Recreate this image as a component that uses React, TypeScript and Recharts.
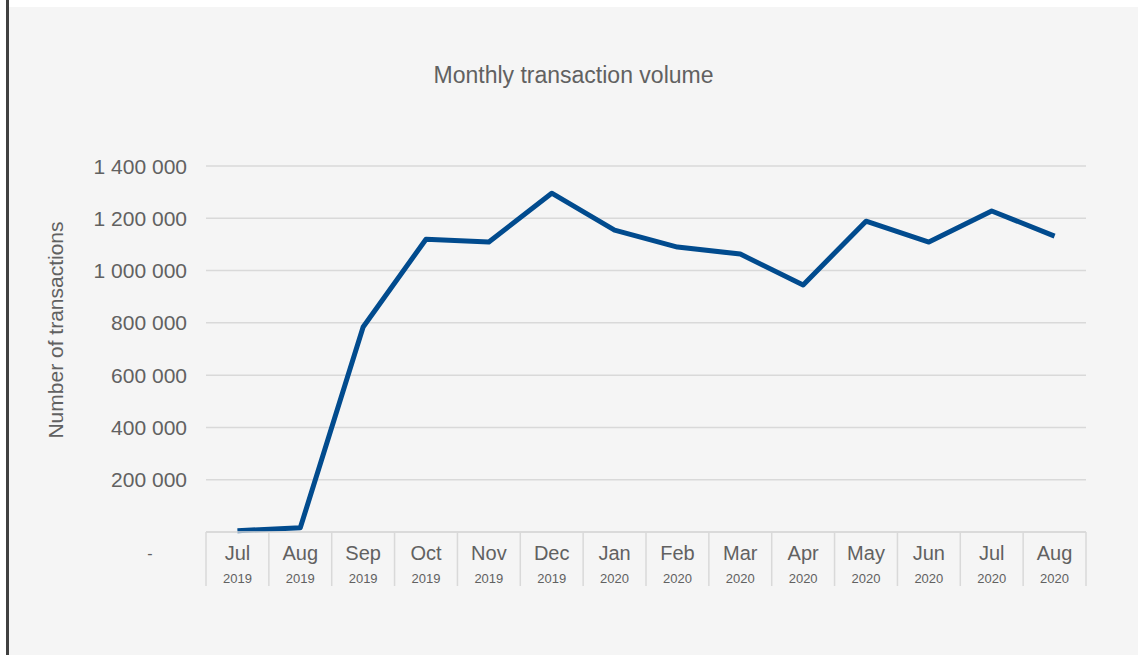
import { LineChart, Line, XAxis, YAxis, CartesianGrid } from "recharts";

const months = ["Jul", "Aug", "Sep", "Oct", "Nov", "Dec", "Jan", "Feb", "Mar", "Apr", "May", "Jun", "Jul", "Aug"];
const years = ["2019", "2019", "2019", "2019", "2019", "2019", "2020", "2020", "2020", "2020", "2020", "2020", "2020", "2020"];
const transactions = [5000, 16000, 784000, 1120000, 1109000, 1296000, 1155000, 1090000, 1063000, 945000, 1189000, 1109000, 1228000, 1132000];
const yTicks = [0, 200000, 400000, 600000, 800000, 1000000, 1200000, 1400000];

const data = months.map((m, i) => ({ key: `${m} ${years[i]}`, value: transactions[i] }));

const W = 1143;
const H = 655;
const xAxisH = 60;
const margin = { top: 166, right: 57, left: 0, bottom: 123 - xAxisH };
const plotW = W - 206 - margin.right;
const band = plotW / months.length;
const font = "'Liberation Sans', Arial, sans-serif";
const textColor = "#616161";
const gridColor = "#d9d9d9";

const fmt = (v: number) => v.toLocaleString("en-US").replace(/,/g, " ");

function XTick(props: any) {
  const { x, y, index } = props;
  const half = band / 2;
  const last = index === months.length - 1;
  return (
    <g>
      <line x1={x - half} y1={y} x2={x - half} y2={y + 54} stroke={gridColor} strokeWidth={1.5} />
      {last && <line x1={x + half} y1={y} x2={x + half} y2={y + 54} stroke={gridColor} strokeWidth={1.5} />}
      <text x={x} y={y + 21} textAnchor="middle" dominantBaseline="central" fontSize={20} fill={textColor} fontFamily={font}>
        {months[index]}
      </text>
      <text x={x} y={y + 46} textAnchor="middle" dominantBaseline="central" fontSize={13} fill={textColor} fontFamily={font}>
        {years[index]}
      </text>
    </g>
  );
}

function YTick(props: any) {
  const { x, y, payload } = props;
  if (payload.value === 0) {
    return (
      <text x={x - 37} y={y + 21} textAnchor="middle" dominantBaseline="central" fontSize={16} fill={textColor} fontFamily={font}>
        -
      </text>
    );
  }
  return (
    <text x={x} y={y} textAnchor="end" dominantBaseline="central" fontSize={21} fill={textColor} fontFamily={font}>
      {fmt(payload.value)}
    </text>
  );
}

export default function App() {
  return (
    <div style={{ position: "absolute", left: 0, top: 0, width: W, height: H, background: "#ffffff" }}>
      <div style={{ position: "absolute", left: 6, top: 0, width: 3, height: H, background: "#404040" }} />
      <div style={{ position: "absolute", left: 9, top: 7, width: 1129, height: H - 7, background: "#f5f5f5" }} />
      <div
        style={{
          position: "absolute",
          left: 9,
          width: 1129,
          top: 62,
          textAlign: "center",
          fontFamily: font,
          fontSize: 23,
          color: textColor,
        }}
      >
        Monthly transaction volume
      </div>
      <div style={{ position: "absolute", left: 0, top: 0 }}>
        <LineChart width={W} height={H} data={data} margin={margin}>
          <CartesianGrid horizontal vertical={false} stroke={gridColor} strokeWidth={1.5} />
          <XAxis
            dataKey="key"
            interval={0}
            padding={{ left: band / 2, right: band / 2 }}
            axisLine={{ stroke: gridColor, strokeWidth: 1.5 }}
            tickLine={false}
            tickSize={0}
            tickMargin={0}
            tick={<XTick />}
            height={xAxisH}
          />
          <YAxis
            width={206}
            domain={[0, 1400000]}
            ticks={yTicks}
            axisLine={false}
            tickLine={false}
            tickSize={0}
            tickMargin={19}
            tick={<YTick />}
            label={{
              content: (p: any) => {
                const vb = p.viewBox;
                const cx = vb.x + 55;
                const cy = vb.y + vb.height / 2 - 19;
                return (
                  <text
                    x={cx}
                    y={cy}
                    transform={`rotate(-90 ${cx} ${cy})`}
                    textAnchor="middle"
                    dominantBaseline="central"
                    fontSize={21}
                    fill={textColor}
                    fontFamily={font}
                  >
                    Number of transactions
                  </text>
                );
              },
            }}
          />
          <Line
            type="linear"
            dataKey="value"
            stroke="#014b8e"
            strokeWidth={5}
            dot={false}
            strokeLinejoin="round"
            isAnimationActive={false}
          />
        </LineChart>
      </div>
    </div>
  );
}
